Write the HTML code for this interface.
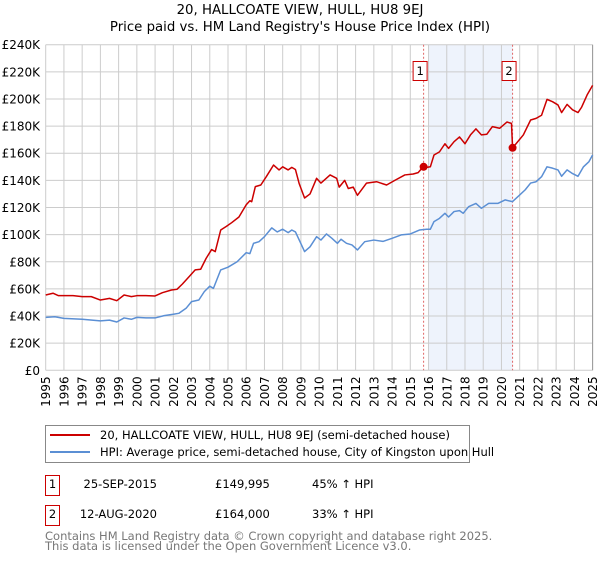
<!DOCTYPE html>
<html><head><meta charset="utf-8"><style>
body{margin:0;background:#fff;font-family:"DejaVu Sans","Liberation Sans",sans-serif;}
svg text{font-family:"DejaVu Sans","Liberation Sans",sans-serif;}
</style></head><body>
<svg id="c" width="600" height="560" xmlns="http://www.w3.org/2000/svg">
<text x="300" y="14" text-anchor="middle" font-size="13.3">20, HALLCOATE VIEW, HULL, HU8 9EJ</text>
<text x="300" y="31" text-anchor="middle" font-size="13.3">Price paid vs. HM Land Registry's House Price Index (HPI)</text>
<g id="grid"></g>
<g id="marks"></g>
<g id="axes"></g>
<g>
<rect x="45.5" y="425.5" width="424" height="37" fill="#fff" stroke="#888"/>
<line x1="50" y1="435" x2="90" y2="435" stroke="#cc0000" stroke-width="2"/>
<text x="100" y="439" font-size="11.5">20, HALLCOATE VIEW, HULL, HU8 9EJ (semi-detached house)</text>
<line x1="50" y1="452" x2="90" y2="452" stroke="#5b8fd4" stroke-width="2"/>
<text x="100" y="456" font-size="11.5">HPI: Average price, semi-detached house, City of Kingston upon Hull</text>
</g>
<g>
<rect x="45.5" y="475.5" width="14" height="20" fill="#fff" stroke="#cc0000"/>
<text x="52.5" y="488" text-anchor="middle" font-size="11.5">1</text>
<text x="157" y="488" text-anchor="end" font-size="11.5">25-SEP-2015</text>
<text x="215" y="488" font-size="11.5">£149,995</text>
<text x="312" y="488" font-size="11.5">45% ↑ HPI</text>
<rect x="45.5" y="505.5" width="14" height="20" fill="#fff" stroke="#cc0000"/>
<text x="52.5" y="518" text-anchor="middle" font-size="11.5">2</text>
<text x="157" y="518" text-anchor="end" font-size="11.5">12-AUG-2020</text>
<text x="215" y="518" font-size="11.5">£164,000</text>
<text x="312" y="518" font-size="11.5">33% ↑ HPI</text>
</g>
<text x="45" y="540" font-size="11.5" fill="#777">Contains HM Land Registry data © Crown copyright and database right 2025.</text>
<text x="45" y="550" font-size="11.5" fill="#777">This data is licensed under the Open Government Licence v3.0.</text>
</svg>
<script>
const yTicks=[0,20,40,60,80,100,120,140,160,180,200,220,240];
const yTickLabels=["£0","£20K","£40K","£60K","£80K","£100K","£120K","£140K","£160K","£180K","£200K","£220K","£240K"];
const years=[1995,1996,1997,1998,1999,2000,2001,2002,2003,2004,2005,2006,2007,2008,2009,2010,2011,2012,2013,2014,2015,2016,2017,2018,2019,2020,2021,2022,2023,2024,2025];
const priceT=[1995,1995.4,1995.7,1996.5,1997,1997.5,1998,1998.5,1998.9,1999.3,1999.7,2000,2000.5,2001,2001.4,2001.9,2002.2,2002.5,2002.9,2003.2,2003.5,2003.8,2004.1,2004.3,2004.6,2004.9,2005.2,2005.6,2006,2006.2,2006.3,2006.5,2006.8,2007.1,2007.5,2007.8,2008,2008.3,2008.5,2008.7,2008.9,2009.2,2009.5,2009.86,2010.1,2010.6,2010.96,2011.1,2011.4,2011.6,2011.87,2012.1,2012.6,2013.15,2013.7,2014.15,2014.7,2015.16,2015.43,2015.71,2015.9,2016.1,2016.3,2016.6,2016.9,2017.1,2017.4,2017.7,2018,2018.3,2018.6,2018.9,2019.2,2019.5,2019.9,2020.3,2020.55,2020.61,2020.8,2021.2,2021.6,2021.9,2022.2,2022.5,2022.8,2023.1,2023.3,2023.6,2023.9,2024.2,2024.4,2024.7,2025];
const priceV=[55.5,56.8,55,55,54.3,54.3,51.8,53,51.3,55.5,54.3,55,55,54.8,57.2,59.2,59.7,63.6,69.5,74,74.5,82.5,89,87.5,103.4,106,108.8,113,122,125,124.3,135.4,136.6,142.7,151.3,147.7,150,147.7,149.6,148,137.8,127,130,141.5,138,144,141.5,135,140,134,135,129,138,139,136.6,140,144,144.7,145.7,150,149.6,150,158.7,161,167,163.6,168.5,172,167,173.5,178,173.5,174,179.6,178.4,183,182,164,167,173.5,184.5,185.7,188,199.7,198,195.6,190,196,192,190,194,203,210];
const hpiT=[1995,1995.5,1996,1997,1998,1998.5,1998.9,1999.3,1999.7,2000,2000.5,2001,2001.5,2002,2002.3,2002.7,2003,2003.4,2003.7,2004,2004.2,2004.6,2005,2005.5,2006,2006.2,2006.4,2006.7,2007,2007.4,2007.7,2008,2008.3,2008.5,2008.7,2008.95,2009.2,2009.5,2009.86,2010.1,2010.4,2010.7,2011,2011.2,2011.5,2011.8,2012.1,2012.5,2013,2013.5,2014,2014.5,2015,2015.5,2015.9,2016.1,2016.3,2016.6,2016.9,2017.1,2017.4,2017.7,2017.9,2018.2,2018.6,2018.9,2019.3,2019.8,2020.2,2020.6,2020.9,2021.3,2021.6,2021.9,2022.2,2022.5,2022.8,2023.1,2023.3,2023.6,2023.9,2024.2,2024.5,2024.8,2025];
const hpiV=[39,39.5,38.3,37.6,36.4,37,35.6,38.6,37.6,39,38.6,38.6,40.3,41.3,42,45.7,50.6,51.8,58,62,60.4,74,76,80,86.7,86,93.6,94.8,98.5,105,102,104,101.5,103.4,102,94.8,87.5,91,98.5,96,100.5,97.3,93.6,96.6,93.6,92.4,88.7,94.8,96,95,97.3,99.8,100.5,103.4,104,104,109.6,112,115.7,113,117,117.7,115.7,120.6,123,119.4,123,123,125.6,124.3,128,133,138,139,142.7,150,149,147.7,143,147.7,145,143,150,153.8,158.7];
const saleT=[2015.73,2020.61];
const saleV=[149.995,164];
const saleLabels=["1","2"];
const shadeRange=[2016.0,2020.61];

const X0=45.7,PY=18.23,Y0=370.3,KY=325.6/240;
const x=t=>X0+(t-1995)*PY;
const y=v=>Y0-v*KY;
const NS="http://www.w3.org/2000/svg";
function mk(tag,attrs,parent){const e=document.createElementNS(NS,tag);for(const k in attrs)e.setAttribute(k,attrs[k]);parent.appendChild(e);return e;}
const grid=document.getElementById('grid'),marks=document.getElementById('marks'),axes=document.getElementById('axes');

const shade=mk('rect',{x:x(shadeRange[0]),y:y(240),width:x(shadeRange[1])-x(shadeRange[0]),height:y(0)-y(240),fill:'#eef3fc'},grid);


yTicks.forEach((v,i)=>{
  const l=mk('line',{x1:x(1995),x2:x(2025),y1:y(v),y2:y(v),stroke:'#cccccc','stroke-width':1},grid);
  
  
  const t=mk('text',{x:40,y:y(v)+4.5,'text-anchor':'end','font-size':12},axes);
  t.textContent=yTickLabels[i];
  
  
});
years.forEach(yr=>{
  const l=mk('line',{x1:x(yr),x2:x(yr),y1:y(240),y2:y(0),stroke:'#cccccc','stroke-width':1},grid);
  
  
  const t=mk('text',{x:0,y:0,'text-anchor':'end','font-size':12,transform:`translate(${x(yr)+4.5},${y(0)+6}) rotate(-90)`},axes);
  t.textContent=String(yr);
  
  
});
const rb=mk('line',{x1:x(2025),x2:x(2025),y1:y(240),y2:y(0),stroke:'#999','stroke-width':1},grid);



saleT.forEach((t,i)=>{
  const l=mk('line',{x1:x(t),x2:x(t),y1:y(240),y2:y(0),stroke:'#e06666','stroke-width':1,'stroke-dasharray':'2,2'},marks);
  
  
  const b=mk('rect',{x:x(t)-10.5,y:61.5,width:14,height:19,fill:'#fff',stroke:'#cc0000'},marks);
  
  
  const tx=mk('text',{x:x(t)-3.5,y:75,'text-anchor':'middle','font-size':11.5},marks);
  tx.textContent=saleLabels[i];
  
  
});
const hp=mk('polyline',{points:hpiT.map((t,i)=>x(t)+','+y(hpiV[i])).join(' '),fill:'none',stroke:'#5b8fd4','stroke-width':1.5,'stroke-linejoin':'round'},marks);


const pp=mk('polyline',{points:priceT.map((t,i)=>x(t)+','+y(priceV[i])).join(' '),fill:'none',stroke:'#cc0000','stroke-width':1.5,'stroke-linejoin':'round'},marks);


saleT.forEach((t,i)=>{
  const c=mk('circle',{cx:x(t),cy:y(saleV[i]),r:4,fill:'#cc0000'},marks);
  
  
});
</script>
</body></html>
